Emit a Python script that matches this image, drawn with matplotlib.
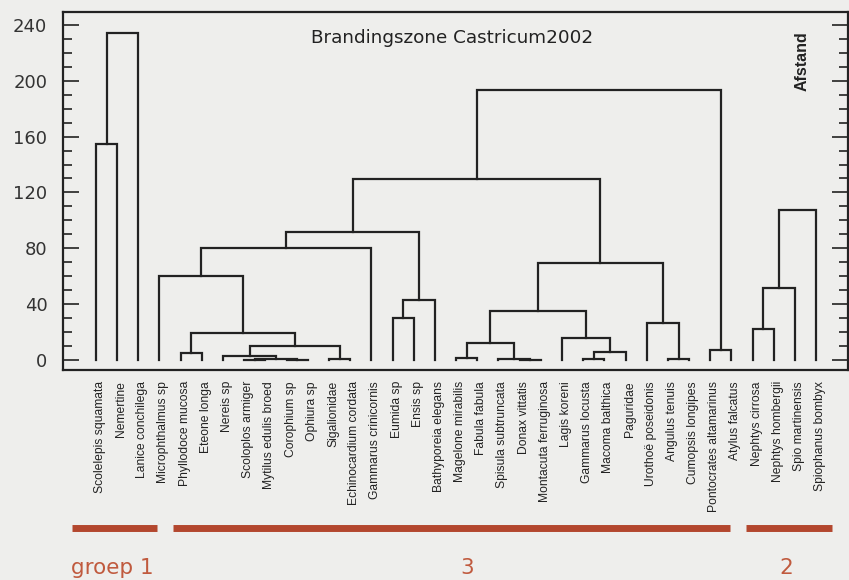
import matplotlib
matplotlib.use('Agg')
import matplotlib.pyplot as plt
from matplotlib.ticker import MultipleLocator
from matplotlib.transforms import ScaledTranslation

# leaves in dendrogram order
leaves = [
    'Scolelepis squamata', 'Nemertine', 'Lanice conchilega', 'Microphthalmus sp',
    'Phyllodoce mucosa', 'Eteone longa', 'Nereis sp', 'Scoloplos armiger',
    'Mytilus edulis broed', 'Corophium sp', 'Ophiura sp', 'Sigalionidae',
    'Echinocardium cordata', 'Gammarus crinicornis', 'Eumida sp', 'Ensis sp',
    'Bathyporeia elegans', 'Magelone mirabilis', 'Fabula fabula',
    'Spisula subtruncata', 'Donax vittatis', 'Montacuta ferruginosa',
    'Lagis koreni', 'Gammarus locusta', 'Macoma balthica', 'Paguridae',
    'Urothoë poseidonis', 'Angulus tenuis', 'Cumopsis longipes',
    'Pontocrates altamarinus', 'Atylus falcatus', 'Nephtys cirrosa',
    'Nephtys hombergii', 'Spio martinensis', 'Spiophanus bombyx',
]

# merges: children are leaf names or earlier merge indices (int)
merge_left = [
    'Scolelepis squamata', 0,
    'Phyllodoce mucosa', 'Scoloplos armiger', 'Corophium sp', 3, 'Nereis sp',
    'Sigalionidae', 6, 2, 'Microphthalmus sp', 10, 'Eumida sp', 12, 11,
    'Magelone mirabilis', 'Donax vittatis', 'Spisula subtruncata', 15,
    'Gammarus locusta', 19, 'Lagis koreni', 18, 'Angulus tenuis',
    'Urothoë poseidonis', 22, 14, 'Pontocrates altamarinus', 26,
    'Nephtys cirrosa', 29, 30,
]
merge_right = [
    'Nemertine', 'Lanice conchilega',
    'Eteone longa', 'Mytilus edulis broed', 'Ophiura sp', 4, 5,
    'Echinocardium cordata', 7, 8, 9, 'Gammarus crinicornis', 'Ensis sp',
    'Bathyporeia elegans', 13,
    'Fabula fabula', 'Montacuta ferruginosa', 16, 17,
    'Macoma balthica', 'Paguridae', 20, 21, 'Cumopsis longipes',
    23, 24, 25, 'Atylus falcatus', 27,
    'Nephtys hombergii', 'Spio martinensis', 'Spiophanus bombyx',
]
merge_height = [
    155, 234,
    5, 0.3, 0.3, 0.6, 2.5, 0.6, 10, 19.3, 60, 80, 30, 43, 91.5,
    1.5, 0.3, 0.6, 12, 0.7, 6, 16, 35, 0.7, 26.5, 69.5, 129.7, 7, 193.5,
    22, 51.5, 107.5,
]

groups = ['groep 1', '3', '2']
group_start = [-1.13, 3.64, 30.69]
group_end = [2.88, 29.93, 34.75]
group_label_x = [0.75, 17.5, 32.6]

BG = '#eeeeec'
INK = '#222222'
RED = '#b3472e'

fig = plt.figure(figsize=(8.49, 5.8), dpi=100)
fig.patch.set_facecolor(BG)
ax = fig.add_axes([63.3 / 849, 1 - 370 / 580, 784.7 / 849, 358.3 / 580])
ax.set_facecolor(BG)


def node_pos(node, centers):
    if isinstance(node, str):
        return leaves.index(node), 0.0
    return centers[node], merge_height[node]


centers = []
for a, b, h in zip(merge_left, merge_right, merge_height):
    xa, ha = node_pos(a, centers)
    xb, hb = node_pos(b, centers)
    ax.plot([xa, xa, xb, xb], [ha, h, h, hb], color=INK, lw=1.6,
            solid_joinstyle='miter', zorder=3)
    centers.append((xa + xb) / 2)

ax.set_xlim(-1.54, 35.5)
ax.set_ylim(-7.2, 249.5)

# y axis: inward ticks both sides, labels left only
ax.yaxis.set_major_locator(MultipleLocator(40))
ax.yaxis.set_minor_locator(MultipleLocator(10))
ax.tick_params(axis='y', which='both', direction='in', left=True, right=True,
               width=1.2, color=INK)
ax.tick_params(axis='y', which='major', length=11.5, pad=11.5,
               labelsize=13, labelcolor='#333333')
ax.tick_params(axis='y', which='minor', length=6.5)
for lbl in ax.get_yticklabels():
    lbl.set_family('DejaVu Sans')

# x axis: species names
ax.set_xticks(range(len(leaves)))
ax.set_xticklabels(leaves, rotation=90, fontsize=8.7, family='Liberation Sans',
                   color='#222222')
ax.tick_params(axis='x', length=0, pad=8)
shift = ScaledTranslation(4 / 100, 0, fig.dpi_scale_trans)
for lbl in ax.get_xticklabels():
    lbl.set_transform(lbl.get_transform() + shift)

for s in ax.spines.values():
    s.set_linewidth(1.6)
    s.set_color(INK)

ax.text(0.495, 0.927, 'Brandingszone Castricum2002', transform=ax.transAxes,
        ha='center', va='center', fontsize=13.2, family='DejaVu Sans',
        color='#222222')
ax.text(0.941, 0.862, 'Afstand', transform=ax.transAxes, rotation=90,
        ha='center', va='center', fontsize=11.5, fontweight='bold',
        family='Liberation Sans', color='#222222')

# group bars below the labels
trans = ax.get_xaxis_transform()
for name, x0, x1, xl in zip(groups, group_start, group_end, group_label_x):
    ax.plot([x0, x1], [-0.441, -0.441], transform=trans, color=RED, lw=5,
            solid_capstyle='butt', clip_on=False)
    ax.text(xl, -0.553, name, transform=trans, ha='center',
            va='center', fontsize=15.5, family='DejaVu Sans', color='#c05a3e')

plt.savefig('out.png', dpi=100, facecolor=fig.get_facecolor())
plt.close()
